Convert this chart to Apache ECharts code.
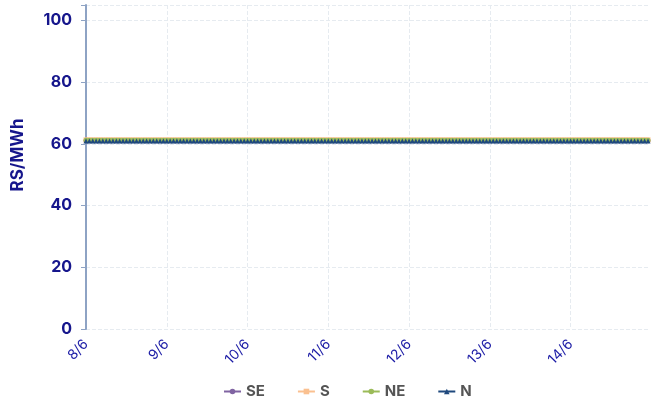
<!DOCTYPE html>
<html>
<head>
<meta charset="utf-8">
<script src="https://cdn.jsdelivr.net/npm/echarts@6/dist/echarts.min.js"></script>
<style>
  html, body { margin: 0; padding: 0; background: #fff; }
  #chart { width: 654px; height: 406px; }
</style>
</head>
<body>
<div id="chart"></div>
<script>
const FONT_FAMILY = "Inter, 'Noto Sans', sans-serif"
const COLORS = {
  axisText: '#16168c',
  dateText: '#1c1ca6',
  legendText: '#555555',
  axisLine: '#8ea3c4',
  grid: '#e6ebf0',
  SE: '#8064a2',
  S: '#fac090',
  NE: '#9bbb59',
  N: '#1f497d',
}

// day labels, one every 24 hourly points
const days = ['8/6', '9/6', '10/6', '11/6', '12/6', '13/6', '14/6']
const yTicks = [0, 20, 40, 60, 80, 100]

// hourly prices (RS/MWh), one row per day
const seValues = [
  61, 61, 61, 61, 61, 61, 61, 61, 61, 61, 61, 61, 61, 61, 61, 61, 61, 61, 61, 61, 61, 61, 61, 61,
  61, 61, 61, 61, 61, 61, 61, 61, 61, 61, 61, 61, 61, 61, 61, 61, 61, 61, 61, 61, 61, 61, 61, 61,
  61, 61, 61, 61, 61, 61, 61, 61, 61, 61, 61, 61, 61, 61, 61, 61, 61, 61, 61, 61, 61, 61, 61, 61,
  61, 61, 61, 61, 61, 61, 61, 61, 61, 61, 61, 61, 61, 61, 61, 61, 61, 61, 61, 61, 61, 61, 61, 61,
  61, 61, 61, 61, 61, 61, 61, 61, 61, 61, 61, 61, 61, 61, 61, 61, 61, 61, 61, 61, 61, 61, 61, 61,
  61, 61, 61, 61, 61, 61, 61, 61, 61, 61, 61, 61, 61, 61, 61, 61, 61, 61, 61, 61, 61, 61, 61, 61,
  61, 61, 61, 61, 61, 61, 61, 61, 61, 61, 61, 61, 61, 61, 61, 61, 61, 61, 61, 61, 61, 61, 61, 61,
]
const sValues = [
  61.3, 61.3, 61.3, 61.3, 61.3, 61.3, 61.3, 61.3, 61.3, 61.3, 61.3, 61.3, 61.3, 61.3, 61.3, 61.3, 61.3, 61.3, 61.3, 61.3, 61.3, 61.3, 61.3, 61.3,
  61.3, 61.3, 61.3, 61.3, 61.3, 61.3, 61.3, 61.3, 61.3, 61.3, 61.3, 61.3, 61.3, 61.3, 61.3, 61.3, 61.3, 61.3, 61.3, 61.3, 61.3, 61.3, 61.3, 61.3,
  61.3, 61.3, 61.3, 61.3, 61.3, 61.3, 61.3, 61.3, 61.3, 61.3, 61.3, 61.3, 61.3, 61.3, 61.3, 61.3, 61.3, 61.3, 61.3, 61.3, 61.3, 61.3, 61.3, 61.3,
  61.3, 61.3, 61.3, 61.3, 61.3, 61.3, 61.3, 61.3, 61.3, 61.3, 61.3, 61.3, 61.3, 61.3, 61.3, 61.3, 61.3, 61.3, 61.3, 61.3, 61.3, 61.3, 61.3, 61.3,
  61.3, 61.3, 61.3, 61.3, 61.3, 61.3, 61.3, 61.3, 61.3, 61.3, 61.3, 61.3, 61.3, 61.3, 61.3, 61.3, 61.3, 61.3, 61.3, 61.3, 61.3, 61.3, 61.3, 61.3,
  61.3, 61.3, 61.3, 61.3, 61.3, 61.3, 61.3, 61.3, 61.3, 61.3, 61.3, 61.3, 61.3, 61.3, 61.3, 61.3, 61.3, 61.3, 61.3, 61.3, 61.3, 61.3, 61.3, 61.3,
  61.3, 61.3, 61.3, 61.3, 61.3, 61.3, 61.3, 61.3, 61.3, 61.3, 61.3, 61.3, 61.3, 61.3, 61.3, 61.3, 61.3, 61.3, 61.3, 61.3, 61.3, 61.3, 61.3, 61.3,
]
const neValues = [
  61.2, 61.2, 61.2, 61.2, 61.2, 61.2, 61.2, 61.2, 61.2, 61.2, 61.2, 61.2, 61.2, 61.2, 61.2, 61.2, 61.2, 61.2, 61.2, 61.2, 61.2, 61.2, 61.2, 61.2,
  61.2, 61.2, 61.2, 61.2, 61.2, 61.2, 61.2, 61.2, 61.2, 61.2, 61.2, 61.2, 61.2, 61.2, 61.2, 61.2, 61.2, 61.2, 61.2, 61.2, 61.2, 61.2, 61.2, 61.2,
  61.2, 61.2, 61.2, 61.2, 61.2, 61.2, 61.2, 61.2, 61.2, 61.2, 61.2, 61.2, 61.2, 61.2, 61.2, 61.2, 61.2, 61.2, 61.2, 61.2, 61.2, 61.2, 61.2, 61.2,
  61.2, 61.2, 61.2, 61.2, 61.2, 61.2, 61.2, 61.2, 61.2, 61.2, 61.2, 61.2, 61.2, 61.2, 61.2, 61.2, 61.2, 61.2, 61.2, 61.2, 61.2, 61.2, 61.2, 61.2,
  61.2, 61.2, 61.2, 61.2, 61.2, 61.2, 61.2, 61.2, 61.2, 61.2, 61.2, 61.2, 61.2, 61.2, 61.2, 61.2, 61.2, 61.2, 61.2, 61.2, 61.2, 61.2, 61.2, 61.2,
  61.2, 61.2, 61.2, 61.2, 61.2, 61.2, 61.2, 61.2, 61.2, 61.2, 61.2, 61.2, 61.2, 61.2, 61.2, 61.2, 61.2, 61.2, 61.2, 61.2, 61.2, 61.2, 61.2, 61.2,
  61.2, 61.2, 61.2, 61.2, 61.2, 61.2, 61.2, 61.2, 61.2, 61.2, 61.2, 61.2, 61.2, 61.2, 61.2, 61.2, 61.2, 61.2, 61.2, 61.2, 61.2, 61.2, 61.2, 61.2,
]
const nValues = [
  60.9, 60.9, 60.9, 60.9, 60.9, 60.9, 60.9, 60.9, 60.9, 60.9, 60.9, 60.9, 60.9, 60.9, 60.9, 60.9, 60.9, 60.9, 60.9, 60.9, 60.9, 60.9, 60.9, 60.9,
  60.9, 60.9, 60.9, 60.9, 60.9, 60.9, 60.9, 60.9, 60.9, 60.9, 60.9, 60.9, 60.9, 60.9, 60.9, 60.9, 60.9, 60.9, 60.9, 60.9, 60.9, 60.9, 60.9, 60.9,
  60.9, 60.9, 60.9, 60.9, 60.9, 60.9, 60.9, 60.9, 60.9, 60.9, 60.9, 60.9, 60.9, 60.9, 60.9, 60.9, 60.9, 60.9, 60.9, 60.9, 60.9, 60.9, 60.9, 60.9,
  60.9, 60.9, 60.9, 60.9, 60.9, 60.9, 60.9, 60.9, 60.9, 60.9, 60.9, 60.9, 60.9, 60.9, 60.9, 60.9, 60.9, 60.9, 60.9, 60.9, 60.9, 60.9, 60.9, 60.9,
  60.9, 60.9, 60.9, 60.9, 60.9, 60.9, 60.9, 60.9, 60.9, 60.9, 60.9, 60.9, 60.9, 60.9, 60.9, 60.9, 60.9, 60.9, 60.9, 60.9, 60.9, 60.9, 60.9, 60.9,
  60.9, 60.9, 60.9, 60.9, 60.9, 60.9, 60.9, 60.9, 60.9, 60.9, 60.9, 60.9, 60.9, 60.9, 60.9, 60.9, 60.9, 60.9, 60.9, 60.9, 60.9, 60.9, 60.9, 60.9,
  60.9, 60.9, 60.9, 60.9, 60.9, 60.9, 60.9, 60.9, 60.9, 60.9, 60.9, 60.9, 60.9, 60.9, 60.9, 60.9, 60.9, 60.9, 60.9, 60.9, 60.9, 60.9, 60.9, 60.9,
]

// hourly category keys: "8/6 0", "8/6 1", ...
const categories = []
days.forEach(d => {
  for (let h = 0; h < 24; h++) categories.push(d + ' ' + h)
})

function makeSeries(name, data, color, symbol) {
  return {
    name,
    type: 'line',
    data,
    symbol,
    symbolSize: 5,
    showAllSymbol: true,
    lineStyle: { color, width: 2 },
    itemStyle: { color },
  }
}

const chart = echarts.init(document.getElementById('chart'))
chart.setOption({
  animation: false,
  textStyle: { fontFamily: FONT_FAMILY },
  grid: { left: 86, right: 6, top: 5, bottom: 77, containLabel: false },
  legend: {
    bottom: 2,
    left: 218,
    itemGap: 32,
    itemWidth: 17,
    itemHeight: 7,
    textStyle: { fontFamily: FONT_FAMILY, fontSize: 15, fontWeight: 'bold', color: COLORS.legendText },
  },
  xAxis: {
    type: 'category',
    data: categories,
    boundaryGap: false,
    axisLine: { show: false },
    axisTick: { show: false },
    axisLabel: {
      interval: 23,
      rotate: 45,
      margin: 13,
      fontFamily: FONT_FAMILY,
      fontSize: 14,
      color: COLORS.dateText,
      formatter: v => v.split(' ')[0],
    },
    splitLine: { show: true, interval: 23, lineStyle: { color: COLORS.grid, type: 'dashed' } },
  },
  yAxis: {
    type: 'value',
    min: yTicks[0],
    max: 105,
    interval: 20,
    name: 'RS/MWh',
    nameLocation: 'middle',
    nameGap: 60,
    nameTextStyle: {
      fontFamily: FONT_FAMILY, fontSize: 17, fontWeight: 'bold', color: COLORS.axisText,
      padding: [0, 0, 0, 24],
    },
    axisLine: { show: true, lineStyle: { color: COLORS.axisLine, width: 2 } },
    axisTick: { show: true, length: 5, lineStyle: { color: COLORS.axisLine } },
    axisLabel: {
      margin: 14,
      fontFamily: FONT_FAMILY,
      fontSize: 16,
      fontWeight: 'bold',
      color: COLORS.axisText,
      formatter: v => (yTicks.includes(v) ? String(v) : ''),
    },
    splitLine: { show: true, lineStyle: { color: COLORS.grid, type: 'dashed' } },
  },
  series: [
    makeSeries('SE', seValues, COLORS.SE, 'circle'),
    makeSeries('S', sValues, COLORS.S, 'rect'),
    makeSeries('NE', neValues, COLORS.NE, 'circle'),
    makeSeries('N', nValues, COLORS.N, 'triangle'),
  ],
})
</script>
</body>
</html>
